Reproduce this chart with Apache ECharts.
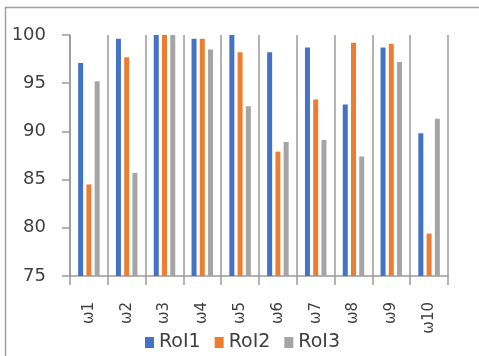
<!DOCTYPE html>
<html>
<head>
<meta charset="utf-8">
<script src="https://cdn.jsdelivr.net/npm/echarts@6/dist/echarts.min.js"></script>
<style>
html,body{margin:0;padding:0;background:#fff;}
#c{width:479px;height:356px;}
</style>
</head>
<body>
<div id="c"></div>
<script>
const categories = ['ω1','ω2','ω3','ω4','ω5','ω6','ω7','ω8','ω9','ω10'];
const roi1 = [97.1, 99.6, 100, 99.6, 100, 98.2, 98.7, 92.8, 98.7, 89.8];
const roi2 = [84.5, 97.7, 100, 99.6, 98.2, 87.9, 93.3, 99.2, 99.1, 79.4];
const roi3 = [95.2, 85.7, 100, 98.5, 92.6, 88.9, 89.1, 87.4, 97.2, 91.3];
const yTicks = [75, 80, 85, 90, 95, 100];

const chart = echarts.init(document.getElementById('c'), null, {renderer:'canvas'});
const lineColor = '#9a9a9a';
const font = 'DejaVu Sans';
chart.setOption({
  animation: false,
  graphic: [{
    type: 'rect', shape: {x: 5.5, y: 7.5, width: 480, height: 360},
    style: {fill: 'none', stroke: '#a0a0a0', lineWidth: 1.5}
  }],
  legend: {
    top: 333, left: 145, padding: 0,
    itemWidth: 9, itemHeight: 11, itemGap: 14,
    icon: 'rect',
    textStyle: {fontFamily: font, fontSize: 19, color: '#404040'},
    data: ['RoI1','RoI2','RoI3']
  },
  grid: {left: 70, right: 31, top: 35, bottom: 80, containLabel: false},
  xAxis: {
    type: 'category', data: categories, boundaryGap: true,
    axisLine: {show: true, lineStyle: {color: lineColor, width: 1.5}},
    axisTick: {show: true, length: 9, lineStyle: {color: lineColor, width: 1.5}},
    splitLine: {show: true, lineStyle: {color: lineColor, width: 1.5}},
    axisLabel: {rotate: 90, margin: 26, fontFamily: font, fontSize: 15, color: '#404040', interval: 0}
  },
  yAxis: {
    type: 'value', min: 75, max: 100, interval: 5,
    axisLine: {show: true, lineStyle: {color: lineColor, width: 1.5}},
    axisTick: {show: true, length: 8, lineStyle: {color: lineColor, width: 1.5}},
    splitLine: {show: false},
    axisLabel: {margin: 24, fontFamily: font, fontSize: 18, color: '#404040',
      formatter: v => yTicks.includes(v) ? String(v) : ''}
  },
  series: [
    {name: 'RoI1', type: 'bar', data: roi1, barWidth: 5, barGap: '65%', itemStyle: {color: '#4472C4'}},
    {name: 'RoI2', type: 'bar', data: roi2, barWidth: 5, barGap: '65%', itemStyle: {color: '#ED7D31'}},
    {name: 'RoI3', type: 'bar', data: roi3, barWidth: 5, barGap: '65%', itemStyle: {color: '#A5A5A5'}}
  ]
});
</script>
</body>
</html>
